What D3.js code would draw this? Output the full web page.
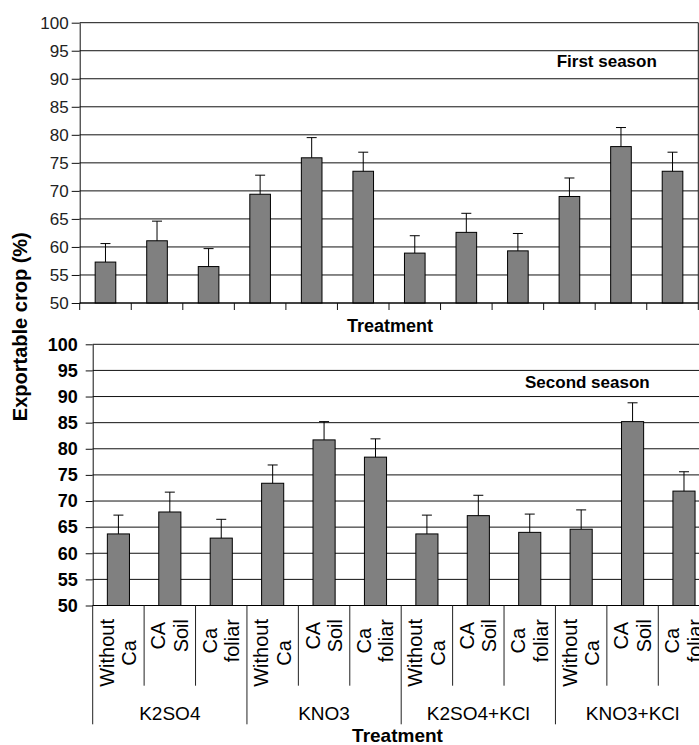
<!DOCTYPE html>
<html>
<head>
<meta charset="utf-8">
<script src="https://cdn.jsdelivr.net/npm/d3@7"></script>
<style>
  body { margin: 0; background: #fff; }
  svg { display: block; font-family: Arial, "Liberation Sans", sans-serif; }
</style>
</head>
<body>
<svg id="chart" width="699" height="745"></svg>
<script>
// treatments: fertiliser groups and calcium sub-treatments
var groups = ["K2SO4", "KNO3", "K2SO4+KCl", "KNO3+KCl"];
var subTreat = [["Without", "Ca"], ["CA", "Soil"], ["Ca", "foliar"]];
var yTicks = [50, 55, 60, 65, 70, 75, 80, 85, 90, 95, 100];

// exportable crop (%), 12 bars per season
var firstSeason  = [57.3, 61.1, 56.5, 69.4, 75.9, 73.5, 58.9, 62.6, 59.3, 69.0, 77.9, 73.5];
var firstErr     = [3.3, 3.5, 3.2, 3.4, 3.6, 3.4, 3.1, 3.4, 3.1, 3.3, 3.4, 3.4];
var secondSeason = [63.7, 67.9, 62.9, 73.4, 81.7, 78.4, 63.7, 67.2, 64.0, 64.6, 85.2, 71.9];
var secondErr    = [3.6, 3.8, 3.6, 3.5, 3.5, 3.5, 3.6, 3.9, 3.5, 3.7, 3.6, 3.7];

// category list built from the groups x sub treatments
var cats = [];
groups.forEach(function (g, gi) {
    subTreat.forEach(function (s, si) {
        cats.push({ id: gi * 3 + si, group: g, lines: s });
    });
});

var svg = d3.select("#chart");
svg.append("rect").attr("width", 699).attr("height", 745).attr("fill", "#fff");

function drawPanel(p) {
    var x = d3.scaleBand().domain(cats.map(function (c) { return c.id; }))
        .range([p.left, p.right]).paddingInner(p.pad).paddingOuter(p.pad / 2);
    var y = d3.scaleLinear().domain([50, 100]).range([p.bottom, p.top]);
    var step = x.step();
    var g = svg.append("g");

    // horizontal grid
    g.selectAll(".grid").data(yTicks).enter().append("line")
        .attr("x1", p.left).attr("x2", p.right)
        .attr("y1", function (d) { return y(d); }).attr("y2", function (d) { return y(d); })
        .attr("stroke", "#111").attr("stroke-width", 1);
    // right border
    g.append("line").attr("x1", p.right).attr("x2", p.right)
        .attr("y1", p.top).attr("y2", p.bottom).attr("stroke", "#111");

    // bars
    var data = p.values.map(function (v, i) { return { id: i, v: v, e: p.errs[i] }; });
    g.selectAll(".bar").data(data).enter().append("rect")
        .attr("x", function (d) { return x(d.id); })
        .attr("width", x.bandwidth())
        .attr("y", function (d) { return y(d.v); })
        .attr("height", function (d) { return y(50) - y(d.v); })
        .attr("fill", "#808080").attr("stroke", "#000").attr("stroke-width", 1);

    // error bars (upper only)
    var eb = g.selectAll(".err").data(data).enter().append("g")
        .attr("transform", function (d) { return "translate(" + (x(d.id) + x.bandwidth() / 2) + ",0)"; });
    eb.append("line").attr("x1", 0).attr("x2", 0)
        .attr("y1", function (d) { return y(d.v); })
        .attr("y2", function (d) { return y(d.v + d.e); })
        .attr("stroke", "#000");
    eb.append("line").attr("x1", -5).attr("x2", 5)
        .attr("y1", function (d) { return y(d.v + d.e); })
        .attr("y2", function (d) { return y(d.v + d.e); })
        .attr("stroke", "#000");

    // y axis
    var ax = g.append("g").attr("transform", "translate(" + p.left + ",0)")
        .call(d3.axisLeft(y).tickValues(yTicks).tickSize(p.tickLen).tickSizeOuter(0).tickPadding(p.tickPad));
    ax.select(".domain").attr("stroke", "#111");
    ax.selectAll(".tick line").attr("stroke", "#111");
    ax.selectAll("text").attr("font-family", "Arial, 'Liberation Sans', sans-serif")
        .attr("font-size", p.tickFont).attr("font-weight", p.tickWeight).attr("fill", p.tickColor);

    // x axis line
    g.append("line").attr("x1", p.left).attr("x2", p.right)
        .attr("y1", p.bottom).attr("y2", p.bottom).attr("stroke", "#000");

    return { x: x, y: y, step: step, g: g };
}

// ---- first season ----
var top1 = drawPanel({
    left: 79.7, right: 698.3, top: 22.7, bottom: 303, pad: 0.6,
    values: firstSeason, errs: firstErr,
    tickLen: 8, tickPad: 3, tickFont: "17px", tickWeight: "normal", tickColor: "#222"
});
d3.range(13).forEach(function (i) {
    var xx = 79.7 + i * top1.step;
    top1.g.append("line").attr("x1", xx).attr("x2", xx)
        .attr("y1", 303).attr("y2", 310).attr("stroke", "#111");
});
svg.append("text").attr("x", 556.7).attr("y", 66.7)
    .attr("font-size", "17px").attr("font-weight", "bold").text("First season");
svg.append("text").attr("x", 390).attr("y", 331.7).attr("text-anchor", "middle")
    .attr("font-size", "18px").attr("font-weight", "bold").text("Treatment");

// ---- second season ----
var bot = drawPanel({
    left: 92.7, right: 709.7, top: 344.3, bottom: 605.5, pad: 0.57,
    values: secondSeason, errs: secondErr,
    tickLen: 7, tickPad: 8, tickFont: "18px", tickWeight: "bold", tickColor: "#000"
});
svg.append("text").attr("x", 525).attr("y", 388.3)
    .attr("font-size", "17px").attr("font-weight", "bold").text("Second season");

// category dividers, long ones between groups
d3.range(13).forEach(function (i) {
    var xx = 92.7 + i * bot.step;
    bot.g.append("line").attr("x1", xx).attr("x2", xx)
        .attr("y1", 605.5).attr("y2", i % 3 === 0 ? 724.3 : 685.7)
        .attr("stroke", "#222");
});

// rotated two-line sub-treatment labels
var lab = svg.selectAll(".cat").data(cats).enter().append("g")
    .attr("transform", function (d) { return "translate(" + (bot.x(d.id) + bot.x.bandwidth() / 2) + ",0)"; });
lab.each(function (d) {
    var gg = d3.select(this);
    var t = d.lines.map(function (s, k) {
        return gg.append("text").attr("transform", "rotate(-90)")
            .attr("y", k === 0 ? -4.5 : 18)
            .attr("text-anchor", "middle").attr("font-size", "20px").text(s);
    });
    var maxLen = d3.max(t, function (tt) { return tt.node().getComputedTextLength(); });
    t.forEach(function (tt) { tt.attr("x", -(619 + maxLen / 2)); });
});

// group labels
svg.selectAll(".grp").data(groups).enter().append("text")
    .attr("x", function (d, i) { return 92.7 + (i * 3 + 1.5) * bot.step; })
    .attr("y", 720).attr("text-anchor", "middle").attr("font-size", "19px")
    .text(function (d) { return d; });

svg.append("text").attr("x", 397.5).attr("y", 741.5).attr("text-anchor", "middle")
    .attr("font-size", "19px").attr("font-weight", "bold").text("Treatment");

// shared y title
svg.append("text").attr("transform", "translate(27,326.7) rotate(-90)")
    .attr("text-anchor", "middle").attr("font-size", "20px").attr("font-weight", "bold")
    .text("Exportable crop (%)");
</script>
</body>
</html>
